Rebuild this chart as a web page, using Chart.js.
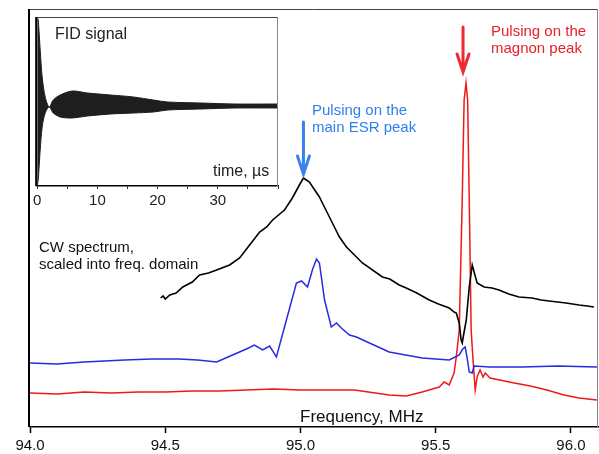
<!DOCTYPE html>
<html>
<head>
<meta charset="utf-8">
<script src="https://cdn.jsdelivr.net/npm/chart.js@4/dist/chart.umd.min.js"></script>
<style>
  body { margin: 0; background: #fff; }
  #wrap { position: relative; width: 599px; height: 454px; }
  #main { position: absolute; left: 0; top: 0; }
  #inset { position: absolute; left: 30px; top: 10px; }
</style>
</head>
<body>
<div id="wrap">
  <canvas id="main" width="599" height="454"></canvas>
  <canvas id="inset" width="251" height="200"></canvas>
</div>
<script>
// Spectres : fréquence (MHz) / intensité (unités arbitraires)

const FONT = '"Liberation Sans", Arial, sans-serif';

const cwFreq = [94.483, 94.492, 94.500, 94.517, 94.540, 94.565, 94.600, 94.627, 94.660, 94.690, 94.738, 94.775,
  94.812, 94.849, 94.875, 94.897, 94.941, 94.970, 94.996, 95.011, 95.033, 95.070, 95.081, 95.107,
  95.118, 95.144, 95.170, 95.181, 95.229, 95.303, 95.330, 95.365, 95.391, 95.430, 95.476, 95.510, 95.550,
  95.568, 95.576, 95.587, 95.594, 95.598, 95.605, 95.613, 95.624, 95.635, 95.642, 95.653, 95.679,
  95.708, 95.734, 95.770, 95.808, 95.856, 95.890, 95.919, 95.950, 95.982, 96.030, 96.060, 96.085];
const cwSignal = [129, 131, 128, 132, 134, 140, 145, 152, 154, 157, 162, 169,
  182, 195, 200, 207, 217, 229, 242, 249, 245, 230, 224, 210,
  204, 190, 180, 177, 164, 150, 148, 142, 139, 134, 127, 123, 119,
  115, 114, 104, 87, 84, 95, 107, 140, 162, 155, 144, 140,
  139, 137, 133, 130, 129, 127, 126, 125, 124, 122, 121, 120];

const esrFreq = [94.000, 94.100, 94.200, 94.350, 94.450, 94.550, 94.620, 94.690, 94.749, 94.800,
  94.830, 94.860, 94.886, 94.911, 94.948, 94.985, 95.004, 95.026, 95.044, 95.059, 95.070, 95.089,
  95.114, 95.133, 95.151, 95.181, 95.207, 95.255, 95.328, 95.450, 95.550, 95.587, 95.600, 95.609,
  95.618, 95.624, 95.635, 95.642, 95.700, 95.819, 95.950, 96.096];
const esrSignal = [64, 63, 65, 67, 68, 68, 67, 65, 72, 78,
  82, 77, 81, 70, 107, 144, 146, 140, 157, 168, 164, 127,
  100, 104, 99, 92, 90, 84, 75, 69, 67, 72, 78, 80,
  66, 55, 54, 61, 60, 60, 61, 60];

const magnonFreq = [94.000, 94.100, 94.200, 94.300, 94.400, 94.500, 94.600, 94.700, 94.800, 94.900,
  95.000, 95.100, 95.200, 95.328, 95.391, 95.450, 95.513, 95.531, 95.550, 95.568, 95.576, 95.587,
  95.598, 95.605, 95.612, 95.618, 95.624, 95.631, 95.638, 95.646, 95.653, 95.664, 95.675, 95.683,
  95.701, 95.790, 95.850, 95.911, 95.974, 96.030, 96.096];
const magnonSignal = [34, 33, 35, 34, 35, 35, 36, 36, 37, 38,
  37, 37, 37, 32, 31, 35, 40, 45, 42, 54, 70, 97,
  227, 327, 344, 327, 227, 97, 67, 37, 50, 57, 50, 54,
  49, 44, 41, 37, 32, 29, 27];

const xTicks = [94.0, 94.5, 95.0, 95.5, 96.0];

// Signal FID (enveloppe), temps en µs
const fidTime = [0, 0.17, 0.5, 0.83, 1.33, 2.0, 2.67, 3.83, 5.83, 8.33, 12.2, 16, 19.3, 21.7, 27.2, 32.7, 40];
const fidUpper = [89, 86, 56, 29, 9, -1, 6, 11, 15, 13, 11, 9, 6, 4, 3, 2, 2];
const fidLower = [-80, -74, -44, -21, -7, -1, -7, -11, -12, -10, -8, -7, -6, -4, -3, -2, -2];

function toPoints(xs, ys) {
    return xs.map((x, i) => ({ x: x, y: ys[i] }));
}

const framePlugin = {
    id: 'frame',
    afterDraw(chart) {
        const ctx = chart.ctx;
        const a = chart.chartArea;
        ctx.save();
        ctx.lineWidth = 1;
        ctx.strokeStyle = '#444';
        ctx.beginPath();
        ctx.moveTo(a.left, a.top + 0.5);
        ctx.lineTo(a.right - 0.5, a.top + 0.5);
        ctx.stroke();
        ctx.strokeStyle = '#888';
        ctx.beginPath();
        ctx.moveTo(a.right - 0.5, a.top);
        ctx.lineTo(a.right - 0.5, a.bottom);
        ctx.stroke();
        ctx.lineWidth = 2;
        ctx.strokeStyle = '#000';
        ctx.beginPath();
        ctx.moveTo(a.left - 1, a.top);
        ctx.lineTo(a.left - 1, a.bottom);
        ctx.stroke();
        ctx.restore();
    }
};

function drawArrow(ctx, x, y0, y1, color) {
    ctx.save();
    ctx.strokeStyle = color;
    ctx.lineWidth = 3;
    ctx.lineCap = 'round';
    ctx.beginPath();
    ctx.moveTo(x, y0);
    ctx.lineTo(x, y1);
    ctx.moveTo(x - 6, y1 - 18);
    ctx.lineTo(x, y1);
    ctx.lineTo(x + 6, y1 - 18);
    ctx.stroke();
    ctx.restore();
}

const notesPlugin = {
    id: 'notes',
    afterDraw(chart) {
        const ctx = chart.ctx;
        const xs = chart.scales.x;
        ctx.save();
        ctx.textBaseline = 'middle';
        ctx.textAlign = 'left';
        ctx.font = '15px ' + FONT;
        ctx.fillStyle = '#111';
        ctx.fillText('CW spectrum,', 39, 248);
        ctx.fillText('scaled into freq. domain', 39, 265);
        ctx.fillStyle = '#2f7fef';
        ctx.fillText('Pulsing on the', 312, 111);
        ctx.fillText('main ESR peak', 312, 128);
        ctx.fillStyle = '#e8202a';
        ctx.fillText('Pulsing on the', 491, 32);
        ctx.fillText('magnon peak', 491, 49);
        ctx.font = '17px ' + FONT;
        ctx.fillStyle = '#111';
        ctx.fillText('Frequency, MHz', 300, 417);
        ctx.restore();
        drawArrow(ctx, xs.getPixelForValue(95.011), 122, 174, '#3a80ee');
        drawArrow(ctx, xs.getPixelForValue(95.601), 27, 72, '#ee2a32');
    }
};

new Chart(document.getElementById('main'), {
    type: 'line',
    data: {
        datasets: [
            { label: 'CW', data: toPoints(cwFreq, cwSignal), borderColor: '#000', borderWidth: 1.6 },
            { label: 'ESR', data: toPoints(esrFreq, esrSignal), borderColor: '#2a2ae0', borderWidth: 1.5 },
            { label: 'Magnon', data: toPoints(magnonFreq, magnonSignal), borderColor: '#f01818', borderWidth: 1.5 }
        ]
    },
    options: {
        responsive: false,
        animation: false,
        elements: { point: { radius: 0 }, line: { tension: 0 } },
        layout: { padding: { left: 30, top: 9, right: 1, bottom: 0 } },
        plugins: { legend: { display: false }, tooltip: { enabled: false } },
        scales: {
            x: {
                type: 'linear',
                min: 94.0,
                max: 96.1,
                afterBuildTicks: (s) => { s.ticks = xTicks.map(v => ({ value: v })); },
                afterFit: (s) => { s.height = 27; },
                ticks: {
                    callback: (v) => v.toFixed(1),
                    font: { size: 15, family: FONT },
                    color: '#111',
                    padding: 4,
                    maxRotation: 0,
                    autoSkip: false
                },
                grid: { drawOnChartArea: false, tickLength: 6, tickColor: '#000', tickWidth: 1.5 },
                border: { display: true, color: '#000', width: 1.5 }
            },
            y: { display: false, min: 0, max: 418 }
        }
    },
    plugins: [framePlugin, notesPlugin]
});

const insetNotes = {
    id: 'insetNotes',
    afterDraw(chart) {
        const ctx = chart.ctx;
        ctx.save();
        ctx.textBaseline = 'middle';
        ctx.font = '16px ' + FONT;
        ctx.fillStyle = '#222';
        ctx.fillText('FID signal', 25, 25);
        ctx.fillText('time, \u00b5s', 183, 162);
        ctx.restore();
    }
};

new Chart(document.getElementById('inset'), {
    type: 'line',
    data: {
        datasets: [
            { data: toPoints(fidTime, fidUpper), borderColor: '#1e1e1e', borderWidth: 1, fill: false },
            { data: toPoints(fidTime, fidLower), borderColor: '#1e1e1e', borderWidth: 1, fill: '-1', backgroundColor: '#1e1e1e' }
        ]
    },
    options: {
        responsive: false,
        animation: false,
        elements: { point: { radius: 0 }, line: { tension: 0.3 } },
        layout: { padding: { left: 7, top: 7, right: 3, bottom: 0 } },
        plugins: { legend: { display: false }, tooltip: { enabled: false } },
        scales: {
            x: {
                type: 'linear',
                min: 0,
                max: 40,
                afterFit: (s) => { s.height = 24; },
                ticks: {
                    stepSize: 5,
                    callback: (v) => (v % 10 === 0 && v < 40) ? String(v) : '',
                    font: { size: 15, family: FONT },
                    color: '#222',
                    padding: 3,
                    maxRotation: 0,
                    autoSkip: false
                },
                grid: { drawOnChartArea: false, tickLength: 3, tickColor: '#333' },
                border: { display: true, color: '#000', width: 1.5 }
            },
            y: { display: false, min: -80, max: 89 }
        }
    },
    plugins: [framePlugin, insetNotes]
});
</script>
</body>
</html>
